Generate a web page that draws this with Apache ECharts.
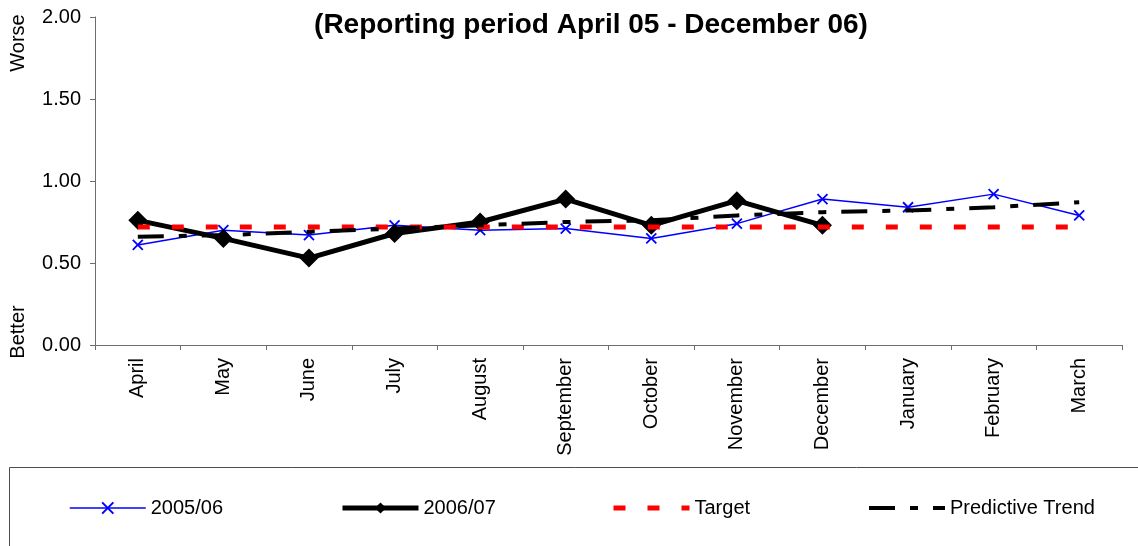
<!DOCTYPE html>
<html>
<head>
<meta charset="utf-8">
<script src="https://cdn.jsdelivr.net/npm/echarts@6/dist/echarts.min.js"></script>
<style>
html,body{margin:0;padding:0;background:#fff;}
#chart{width:1138px;height:546px;}
</style>
</head>
<body>
<div id="chart"></div>
<script>
const months = ['April','May','June','July','August','September','October','November','December','January','February','March'];
const yTicks = [0, 0.5, 1.0, 1.5, 2.0];
const s0506 = [0.61, 0.70, 0.67, 0.73, 0.70, 0.71, 0.65, 0.74, 0.89, 0.84, 0.92, 0.79];
const s0607 = [0.76, 0.65, 0.53, 0.68, 0.75, 0.89, 0.73, 0.88, 0.73, null, null, null];
const target = [0.72, 0.72, 0.72, 0.72, 0.72, 0.72, 0.72, 0.72, 0.72, 0.72, 0.72, 0.72];
const trend = [0.66, 0.67, 0.69, 0.71, 0.73, 0.75, 0.76, 0.79, 0.81, 0.82, 0.84, 0.87];
const titleText = '(Reporting period April 05 - December 06)';

const FONT = 'Liberation Sans, Arial, sans-serif';
const chart = echarts.init(document.getElementById('chart'), null, {renderer: 'canvas'});

function legendAt(name, left, hideSymbol) {
  const l = {
    show: true, data: [name], left: left, top: 498,
    itemWidth: 76, itemHeight: 14, itemGap: 0, padding: 0,
    textStyle: {fontFamily: FONT, fontSize: 20, color: '#000'},
    lineStyle: {width: 'inherit'},
    selectedMode: false
  };
  if (hideSymbol) l.itemStyle = {opacity: 0};
  return l;
}

const option = {
  backgroundColor: '#fff',
  animation: false,
  grid: {left: 95, right: 16, top: 17, bottom: 201, containLabel: false},
  legend: [
    legendAt('2005/06', 69, false),
    legendAt('2006/07', 340, false),
    legendAt('Target', 611, true),
    legendAt('Predictive Trend', 867, true)
  ],
  xAxis: {
    type: 'category',
    data: months,
    boundaryGap: true,
    axisLine: {lineStyle: {color: '#6e6e6e', width: 1}},
    axisTick: {show: true, length: 5, lineStyle: {color: '#6e6e6e'}},
    axisLabel: {
      rotate: 90, margin: 13, fontFamily: FONT, fontSize: 20, color: '#000', interval: 0
    },
    splitLine: {show: false}
  },
  yAxis: {
    type: 'value',
    min: yTicks[0], max: yTicks[yTicks.length - 1], interval: 0.5,
    axisLine: {show: true, lineStyle: {color: '#6e6e6e', width: 1}},
    axisTick: {show: true, length: 5, lineStyle: {color: '#6e6e6e'}},
    axisLabel: {
      margin: 14, fontFamily: FONT, fontSize: 20, color: '#000',
      formatter: v => v.toFixed(2)
    },
    splitLine: {show: false}
  },
  graphic: [
    {type: 'rect', shape: {x: 9.5, y: 467.5, width: 1200, height: 200},
     style: {fill: 'none', stroke: '#4d4d4d', lineWidth: 1}, silent: true, z: -1},
    {type: 'text', x: 591, y: 25, style: {text: titleText, font: 'bold 28px ' + FONT, fill: '#000', textAlign: 'center', textVerticalAlign: 'middle'}},
    {type: 'text', x: 18, y: 43, rotation: Math.PI / 2, style: {text: 'Worse', font: '20px ' + FONT, fill: '#000', textAlign: 'center', textVerticalAlign: 'middle'}},
    {type: 'text', x: 18, y: 332, rotation: Math.PI / 2, style: {text: 'Better', font: '20px ' + FONT, fill: '#000', textAlign: 'center', textVerticalAlign: 'middle'}}
  ],
  series: [
    {
      name: '2005/06', type: 'line', data: s0506,
      symbol: 'path://M0,0L10,10M10,0L0,10', symbolSize: 10,
      lineStyle: {color: '#0000ff', width: 1.5},
      itemStyle: {color: '#0000ff', borderColor: '#0000ff', borderWidth: 1.8},
      z: 2
    },
    {
      name: '2006/07', type: 'line', data: s0607,
      symbol: 'diamond', symbolSize: 19,
      lineStyle: {color: '#000', width: 5},
      itemStyle: {color: '#000'},
      z: 3
    },
    {
      name: 'Target', type: 'line', data: target,
      symbol: 'none',
      lineStyle: {color: '#ff0000', width: 5, type: [12, 22], cap: 'butt'},
      itemStyle: {color: '#ff0000'},
      z: 4
    },
    {
      name: 'Predictive Trend', type: 'line', data: trend,
      symbol: 'none',
      lineStyle: {color: '#000', width: 4, type: [26, 15, 8, 15], cap: 'butt'},
      itemStyle: {color: '#000'},
      z: 5
    }
  ]
};
chart.setOption(option);
</script>
</body>
</html>
